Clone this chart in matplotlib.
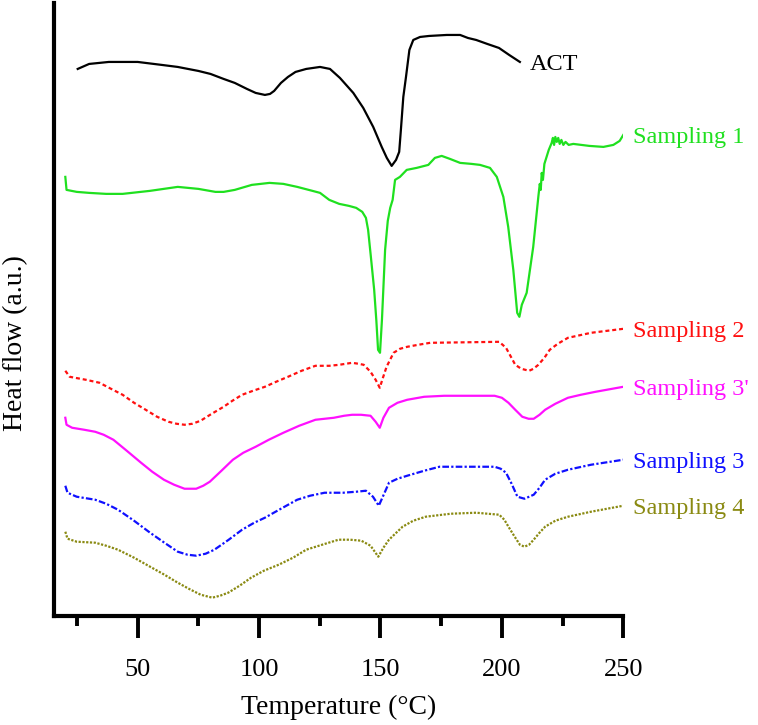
import matplotlib
matplotlib.use("Agg")
import matplotlib.pyplot as plt
from matplotlib.ticker import MultipleLocator

plt.rcParams['font.family'] = ['Liberation Serif', 'DejaVu Serif']

# DSC curves (heat flow in arbitrary units)
t_act = [25.3, 30, 38.1, 50, 60, 66.5, 75, 80, 85.4, 90, 95, 98.6, 100.5, 102.4,
         104.5, 106.2, 109, 111.9, 115, 119.4, 125.1, 129.2, 133.3, 138.8, 142.9,
         147.0, 150.5, 152.6, 154.6, 156.4, 157.7, 158.4, 159.4, 160.5, 161.9,
         163.5, 166.3, 170, 177.3, 182.8, 186, 189.4, 194, 198.8, 203, 207.4]
y_act = [547, 552, 554, 554, 551, 549, 545, 542, 537, 533, 527, 523, 522, 521,
         522, 525, 533, 539, 544, 547, 549, 547, 538, 523, 508,
         489, 469, 458, 450, 456, 464, 486, 519, 539, 566,
         576, 579, 580, 581, 581, 578, 576, 572, 568, 561, 554]

t_s1 = [20.2, 20.7, 24.9, 30, 37, 43.8, 55, 66.5, 75, 82, 85.4, 90, 97, 104.3,
        110, 115.7, 122, 125.1, 128.9, 133, 137, 140, 142.5, 144, 144.9, 146,
        147.4, 148.3, 149.0, 149.8, 150.6, 151.9, 153, 154, 155.0, 156, 158,
        160.8, 164.9, 169.7, 172.4, 175.2, 178.6, 182.8, 187.5, 191.0, 195.1,
        197.9, 200.6, 202.6, 204.7, 206.3, 207.2, 208.2, 210.2, 212.9, 215.0,
        215.6, 216.0, 216.4, 216.9, 217.5, 218.4, 219.3, 220.5, 221.0, 221.5,
        222.0, 222.6, 223.2, 223.8, 224.5, 225.3, 226.2, 227.5, 229.4, 236.0,
        241.8, 245.9, 248.5, 250.0]
y_s1 = [439, 426, 424, 423, 422, 422, 425, 429, 427, 424, 424, 426, 431, 433,
        432, 429, 425, 423, 416, 412, 410, 408, 404, 398, 386, 360,
        326, 295, 266, 263, 296, 366, 395, 408, 416, 436, 439,
        446, 448, 451, 458, 460, 457, 453, 452, 451, 448,
        439, 419, 389, 346, 303, 299, 311, 323, 369, 419,
        432, 426, 443, 436, 452, 459, 466, 473, 478, 471,
        479, 474, 478, 472, 476, 471, 474, 471, 472, 470,
        469, 471, 475, 481]

t_s2 = [20.2, 22.0, 28.7, 34.3, 39, 43.8, 48.5, 53.3, 58, 62.7, 66, 69.3, 72.5,
        75.9, 80.5, 85.4, 89, 93, 97.5, 102.4, 107, 111.9, 117.5, 123.2, 128.9,
        133, 138.3, 141, 143.1, 145.9, 148, 149.7, 151, 152.5, 155.4, 158, 161,
        165.5, 170.5, 198.9, 201.7, 203.5, 205.5, 208, 211.2, 213, 215, 217.5,
        219.7, 223, 227.2, 236.7, 250.0]
y_s2 = [245, 239, 236, 233, 227, 221, 213, 206, 199, 194, 192, 191, 192,
        195, 202, 209, 215, 221, 225, 229, 234, 239, 245, 250, 250,
        251, 253, 252, 251, 244, 236, 228, 238, 249, 263, 267, 269,
        271, 273, 274, 268, 260, 251, 247, 245, 247, 251, 258,
        266, 272, 278, 283, 287]

t_s3p = [20.2, 20.7, 23, 28, 32.5, 36, 40, 45.5, 51.4, 56, 60.8, 65, 69.3, 74.1,
         77, 79.7, 84.5, 89.2, 93.5, 98.6, 104, 110, 116.5, 123.2, 130.8, 135,
         138.3, 142, 145.9, 148, 149.7, 151.2, 153.5, 157, 161, 168, 176.2, 197,
         200, 202.7, 205.5, 208.4, 211, 213.1, 215.5, 217.8, 222, 227.2, 232.5,
         238.6, 250]
y_s3p = [198, 191, 188, 186, 184, 181, 176, 165, 153, 144, 136, 131, 127, 127,
         130, 134, 145, 156, 163, 169, 176, 183, 190, 196, 198, 200,
         201, 201, 200, 194, 188, 198, 208, 213, 216, 219, 220, 220,
         218, 213, 206, 199, 197, 197, 201, 206, 212, 218, 221,
         224, 229]

t_s3 = [20.2, 21.1, 24.9, 32.5, 37, 41.9, 48.5, 55.1, 61, 66.5, 70.5, 74.1, 78,
        81.6, 87.5, 93, 98, 102.4, 109, 115.7, 121, 127, 134.6, 140, 144, 146.9,
        149.3, 151.5, 153.5, 157, 161, 168, 174.3, 197, 199.5, 201.7, 204, 206.4,
        209.3, 213.1, 215.5, 217.8, 222, 227.2, 236.7, 250]
y_s3 = [130, 123, 119, 116, 112, 106, 95, 83, 73, 64, 61, 60, 62,
        66, 76, 86, 93, 98, 107, 116, 120, 123, 123, 124, 125, 119,
        110, 122, 133, 137, 140, 145, 149, 149, 147, 143, 132, 119,
        117, 121, 128, 136, 142, 146, 151, 156]

t_s4 = [20.2, 21.1, 24.9, 32.5, 37, 41.9, 48.5, 55.1, 61, 66.5, 71, 75.9, 80.7,
        84, 87.3, 92, 96.7, 102, 108.1, 114, 119.4, 126, 132.7, 137.5, 142.1,
        145.9, 149.1, 151.2, 153.5, 156.5, 159.1, 163.5, 168.6, 179, 189.4, 198.9,
        201, 202.7, 205, 207.4, 209.3, 211.2, 213.1, 215.5, 217.8, 222, 227.2,
        236.7, 250]
y_s4 = [84, 77, 74, 73, 70, 66, 58, 49, 41, 33, 27, 21, 18,
        20, 23, 30, 38, 45, 51, 58, 66, 71, 76, 76, 75,
        70, 59, 68, 76, 83, 89, 95, 99, 102, 103, 101,
        96, 89, 80, 71, 69, 71, 76, 83, 89, 95, 99,
        104, 110]

names = ['ACT', 'Sampling 1', 'Sampling 2', "Sampling 3'", 'Sampling 3', 'Sampling 4']
colors = ['black', '#1fe01f', '#ff1010', '#ff10ff', '#1010ff', '#8a8a12']
styles = ['-', '-', (0, (1.8, 1.3)), '-', (0, (3, 1, 1, 1)), (0, (1, 0.7))]
temps = [t_act, t_s1, t_s2, t_s3p, t_s3, t_s4]
flows = [y_act, y_s1, y_s2, y_s3p, y_s3, y_s4]

fig = plt.figure(figsize=(7.58, 7.25), dpi=100)
ax = fig.add_axes([0.0708, 0.1508, 0.7515, 0.8451])

for t, y, c, ls in zip(temps, flows, colors, styles):
    ax.plot(t, y, color=c, linestyle=ls, lw=1.6)

# curve labels sit just right of each curve's end
for t, y, name, c in zip(temps, flows, names, colors):
    ax.annotate(name, xy=(t[-1], y[-1]), xytext=(7, 0), textcoords='offset points',
                color=c, fontsize=17.5, va='center_baseline', ha='left',
                annotation_clip=False)

ax.set_xlim(15.4, 250)
ax.set_ylim(0, 613)
ax.spines['top'].set_visible(False)
ax.spines['right'].set_visible(False)
for s in ['left', 'bottom']:
    ax.spines[s].set_linewidth(3)
ax.set_yticks([])
ax.xaxis.set_major_locator(MultipleLocator(50))
ax.xaxis.set_minor_locator(MultipleLocator(25))
ax.tick_params(axis='x', which='major', length=16, width=2.8, pad=15, labelsize=19)
ax.tick_params(axis='x', which='minor', length=7, width=2.8)

ax.set_xlabel('Temperature (°C)', fontsize=20, labelpad=10)
fig.text(0.02, 0.527, 'Heat flow (a.u.)', rotation=90, fontsize=20,
         ha='center', va='center')

fig.savefig('out.png', dpi=100)
